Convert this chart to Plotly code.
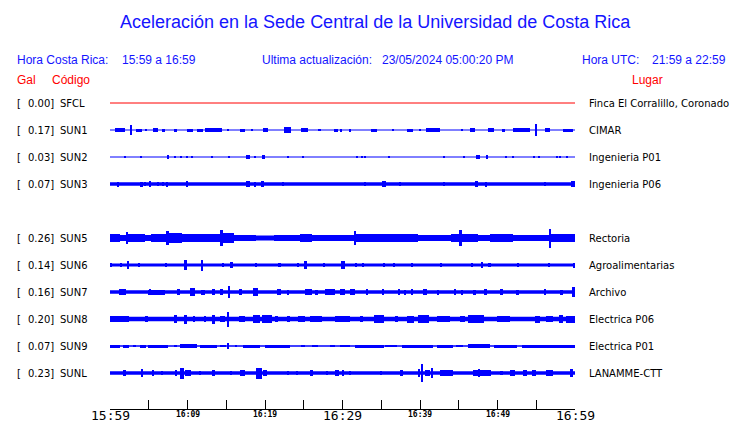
import plotly.graph_objects as go

# ---------------- data ----------------
codes = ["SFCL", "SUN1", "SUN2", "SUN3", "SUN5", "SUN6", "SUN7", "SUN8", "SUN9", "SUNL"]
slots = [0, 1, 2, 3, 5, 6, 7, 8, 9, 10]          # SUN4 slot is empty
gal = [0.00, 0.17, 0.03, 0.07, 0.26, 0.14, 0.16, 0.20, 0.07, 0.23]
places = ["Finca El Corralillo, Coronado", "CIMAR", "Ingenieria P01", "Ingenieria P06",
          "Rectoria", "Agroalimentarias", "Archivo", "Electrica P06", "Electrica P01",
          "LANAMME-CTT"]

# background (quiet) half-amplitude of each trace
base_amp = [0.5, 0.5, 0.5, 1.7, 2.5, 1.5, 1.7, 2.3, 0.8, 1.7]

# bursts: (start minute, end minute, half-amplitude)
ev_SFCL = []
ev_SUN1 = [(0.6,1.9,1.7),(2.6,2.8,5.3),(3.3,4.1,1.5),(4.6,4.7,1.2),(5.6,6.2,1.7),(6.7,7.1,1.5),
           (8.2,8.6,1.5),(9.9,10.7,1.5),(11.2,12.0,1.5),(12.3,14.4,1.7),(15.2,15.4,1.2),(16.8,17.4,1.5),
           (18.2,18.4,1.2),(19.8,20.4,1.7),(22.5,23.3,3.3),(24.7,25.6,1.7),(26.8,27.2,1.2),(28.9,29.4,1.5),
           (29.7,29.9,1.5),(30.8,31.1,1.5),(33.7,34.4,1.5),(36.5,36.7,1.2),(38.3,39.1,1.5),(39.9,40.1,1.2),
           (40.8,42.6,1.7),(45.4,45.6,1.2),(46.4,47.1,1.7),(48.8,49.5,1.7),(50.6,51.0,1.5),(52.0,54.2,1.8),
           (54.9,55.1,6.0),(56.1,56.8,1.7),(58.5,59.8,1.5)]
ev_SUN2 = [(1.9,2.0,1.3),(4.0,4.1,1.3),(7.3,7.6,1.7),(8.3,8.4,1.3),(9.1,9.2,1.0),(9.9,10.1,1.3),
           (10.6,10.7,1.3),(13.1,13.3,1.3),(15.3,15.4,1.3),(17.6,18.1,1.7),(18.7,18.9,1.3),(19.6,20.0,1.7),
           (22.9,23.0,1.0),(24.8,24.9,1.0),(31.8,31.9,1.0),(32.5,32.6,1.3),(32.9,33.0,1.0),(36.0,36.1,1.0),
           (43.1,43.2,1.0),(45.6,45.7,1.0),(47.2,47.7,1.7),(48.5,48.8,1.7),(51.0,51.1,1.3),(52.0,52.1,1.0),
           (54.7,54.8,1.0),(55.3,55.4,1.0),(57.6,57.7,1.0),(58.0,58.1,1.0),(58.9,59.0,1.3)]
ev_SUN3 = [(1.0,1.2,2.5),(3.9,4.2,2.5),(4.5,4.6,2.3),(5.1,5.3,2.7),(6.1,6.3,2.3),(6.8,6.9,2.3),
           (7.3,7.5,2.5),(9.9,10.1,2.7),(17.6,18.1,3.3),(18.6,18.8,2.5),(19.5,19.9,3.3),(22.3,22.5,2.3),
           (32.8,33.0,2.3),(35.1,35.6,2.7),(37.3,37.5,2.3),(43.0,43.2,2.3),(47.1,47.5,3.0),(48.5,48.7,2.5),
           (56.0,56.2,2.3),(59.5,60.0,2.7)]
ev_SUN5 = [(0.0,1.3,4.2),(1.3,2.1,3.4),(2.1,2.3,6.0),(2.3,4.5,4.2),(4.5,5.3,3.4),(5.3,7.2,4.2),
           (7.2,7.6,7.0),(7.6,9.3,5.0),(9.3,14.2,3.8),(14.2,14.6,8.3),(14.6,16.0,4.6),(16.0,18.9,3.4),
           (21.1,24.5,3.3),(24.5,26.0,3.8),(26.0,29.7,3.4),(29.7,30.5,3.0),(30.5,31.6,3.4),(31.6,31.8,7.0),
           (31.8,34.0,3.8),(34.0,35.5,4.2),(35.5,39.8,3.8),(39.8,44.0,3.0),(44.0,45.0,3.8),(45.0,45.4,8.0),
           (45.4,47.5,4.2),(47.5,49.0,3.4),(49.0,52.0,3.8),(52.0,54.0,3.0),(54.0,56.7,3.4),(56.7,56.9,9.5),
           (56.9,60.0,3.8)]
ev_SUN6 = [(0.1,0.3,2.3),(1.4,1.6,2.0),(2.3,2.5,3.7),(3.7,3.9,2.3),(7.2,7.4,2.3),(9.5,9.9,4.7),
           (11.8,12.0,5.5),(14.5,14.7,2.0),(15.5,15.9,3.0),(18.8,19.0,2.3),(21.8,22.0,2.3),(24.2,24.4,2.0),
           (25.0,25.4,3.7),(27.6,27.8,2.3),(29.8,30.3,4.3),(31.6,31.9,2.0),(32.6,32.8,2.0),(35.3,35.5,2.3),
           (36.6,36.8,2.3),(38.9,39.1,2.3),(42.7,42.9,2.3),(46.6,46.8,2.3),(47.9,48.1,2.7),(48.9,49.1,2.3),
           (52.6,52.8,2.3),(56.6,56.8,2.0),(59.7,60.0,2.5)]
ev_SUN7 = [(1.1,2.0,2.7),(4.9,7.1,2.5),(5.1,5.3,3.3),(8.6,9.0,2.7),(10.3,11.0,4.3),(11.8,12.2,2.5),
           (13.1,13.5,3.0),(14.2,14.6,2.7),(15.3,15.5,6.0),(16.6,17.0,3.0),(18.5,19.1,4.0),(21.5,22.1,2.7),
           (22.9,23.1,2.5),(25.2,26.0,3.0),(26.4,26.8,2.5),(27.7,29.0,2.7),(29.7,30.3,2.7),(31.0,31.6,2.7),
           (33.1,33.3,2.7),(35.2,35.4,2.7),(37.2,37.4,2.7),(38.0,38.2,2.5),(38.9,39.1,2.7),(40.4,40.9,3.0),
           (42.3,42.5,2.5),(44.4,44.7,3.0),(45.3,45.5,2.5),(46.8,47.2,2.5),(48.2,48.6,2.7),(50.3,50.7,2.7),
           (52.4,52.8,2.5),(56.0,56.2,2.7),(58.0,58.4,2.5),(59.6,60.0,4.7)]
ev_SUN8 = [(0.0,2.4,3.3),(4.5,4.9,3.3),(8.2,8.6,3.7),(9.5,9.9,4.5),(10.8,11.0,3.3),(12.2,12.4,3.0),
           (13.2,13.5,4.5),(14.2,14.8,3.3),(15.2,15.4,7.5),(16.6,17.4,3.3),(18.5,19.4,4.3),(19.6,20.9,4.0),
           (21.3,21.7,3.3),(22.8,23.2,3.3),(24.3,25.2,3.3),(25.8,27.3,3.1),(29.0,31.0,3.4),(32.3,32.7,3.0),
           (34.0,35.3,4.0),(36.8,37.2,3.3),(38.3,39.2,3.5),(39.8,41.1,4.3),(42.2,43.9,3.1),(45.2,45.8,3.3),
           (46.2,48.2,3.8),(49.9,51.6,3.1),(54.8,55.5,3.5),(56.3,57.2,3.1),(57.9,58.5,4.3),(58.9,60.0,3.5)]
ev_SUN9 = [(0.0,1.3,1.5),(1.7,2.4,1.5),(3.0,3.4,1.3),(3.9,4.7,1.5),(4.9,7.5,1.5),(8.2,8.6,1.3),
           (9.0,11.2,1.7),(11.6,13.8,1.5),(14.2,15.0,1.3),(15.2,15.4,3.3),(16.2,16.4,1.3),(17.2,19.4,1.5),
           (20.0,23.2,1.5),(24.7,25.1,1.3),(26.0,26.9,1.3),(28.4,29.0,1.3),(29.7,31.0,1.3),(31.6,35.3,1.5),
           (35.5,37.0,1.3),(37.7,41.7,1.5),(42.2,44.3,1.5),(44.7,45.6,1.3),(46.2,49.0,1.7),(49.5,52.5,1.5),
           (53.1,60.0,1.5)]
ev_SUNL = [(1.8,2.0,3.3),(4.0,4.2,4.0),(5.5,5.7,2.7),(6.6,6.8,2.3),(8.4,8.6,2.7),(9.0,9.5,5.5),
           (9.7,10.5,2.7),(11.5,11.7,2.3),(13.1,13.5,3.0),(15.6,15.8,2.3),(16.8,17.4,2.7),(18.9,19.6,5.5),
           (19.8,20.2,3.0),(22.9,23.1,2.3),(24.1,24.3,2.3),(25.8,26.2,3.3),(27.9,28.1,2.3),(29.0,29.5,2.7),
           (30.0,30.2,2.7),(30.9,31.1,2.3),(34.9,35.1,2.3),(37.4,37.8,2.7),(39.8,40.0,4.3),(40.2,40.4,8.7),
           (40.6,41.3,3.3),(41.5,41.7,5.0),(42.6,44.3,2.7),(46.9,49.2,3.1),(47.6,47.8,4.3),(50.3,50.7,2.3),
           (51.6,52.2,3.0),(53.3,53.8,2.7),(54.4,55.0,3.0),(56.3,57.2,2.7),(59.4,59.8,4.3)]
events = [ev_SFCL, ev_SUN1, ev_SUN2, ev_SUN3, ev_SUN5, ev_SUN6, ev_SUN7, ev_SUN8, ev_SUN9, ev_SUNL]

tick_minutes = [0, 10, 20, 30, 40, 50, 60]
tick_labels = ["15:59", "16:09", "16:19", "16:29", "16:39", "16:49", "16:59"]
tick_major = [True, False, False, True, False, False, True]

title = "Aceleración en la Sede Central de la Universidad de Costa Rica"
hdr_local = ("Hora Costa Rica:", "15:59 a 16:59")
hdr_update = ("Ultima actualización:", "23/05/2024 05:00:20 PM")
hdr_utc = ("Hora UTC:", "21:59 a 22:59")

# ---------------- layout geometry ----------------
W, H = 740, 423
L, R, T, B = 110, 165, 90, 14
PW, PH = W - L - R, H - T - B
ROW_PX = 27.0
FIRST_ROW_PX = 103.0
y_top = (T - FIRST_ROW_PX) / ROW_PX
y_bot = (H - B - FIRST_ROW_PX) / ROW_PX

def px_x(px):
    return (px - L) / PW

def px_y(py):
    return (H - B - py) / PH

BLUE = "#0000ff"
TXT_BLUE = "#1414ff"
RED = "#ff0000"

fig = go.Figure()

for i, code in enumerate(codes):
    row = slots[i]
    color = RED if code == "SFCL" else BLUE
    lw = 1 if code == "SFCL" else max(1.0, 2 * base_amp[i])
    fig.add_trace(go.Scatter(x=[0, 60], y=[row, row], mode="lines",
                             line=dict(color=color, width=lw), hoverinfo="skip",
                             showlegend=False))
    ev = events[i]
    if ev:
        xs = [(a + b) / 2 for a, b, _ in ev]
        ws = [max(b - a, 0.14) for a, b, _ in ev]
        hs = [2 * amp / ROW_PX for _, _, amp in ev]
        bs = [row - amp / ROW_PX for _, _, amp in ev]
        fig.add_trace(go.Bar(x=xs, y=hs, base=bs, width=ws, marker=dict(color=BLUE, line=dict(width=0)),
                             hoverinfo="skip", showlegend=False))

ann = []
def add(text, x, y, xanchor="left", size=12, color="black", family="Liberation Sans",
        xref="paper", yref="paper", yanchor="middle"):
    ann.append(dict(text=text, x=x, y=y, xref=xref, yref=yref, xanchor=xanchor,
                    yanchor=yanchor, showarrow=False,
                    font=dict(size=size, color=color, family=family)))

add(title, px_x(375), px_y(22), xanchor="center", size=18, color=TXT_BLUE)
add(hdr_local[0], px_x(15), px_y(60), color=TXT_BLUE)
add(hdr_local[1], px_x(120), px_y(60), color=TXT_BLUE)
add(hdr_update[0], px_x(260), px_y(60), color=TXT_BLUE)
add(hdr_update[1], px_x(380), px_y(60), color=TXT_BLUE)
add(hdr_utc[0], px_x(580), px_y(60), color=TXT_BLUE)
add(hdr_utc[1], px_x(650), px_y(60), color=TXT_BLUE)
add("Gal", px_x(15), px_y(80), color=RED)
add("Código", px_x(50), px_y(80), color=RED)
add("Lugar", px_x(630), px_y(80), color=RED)

for i, code in enumerate(codes):
    row = slots[i]
    add("[", px_x(15), row, yref="y", size=10, family="DejaVu Sans")
    add(f"{gal[i]:.2f}]", px_x(56), row, xanchor="right", yref="y", size=10, family="DejaVu Sans")
    add(code, px_x(58), row, yref="y", size=10, family="DejaVu Sans")
    add(places[i], px_x(587), row, yref="y", size=10, family="DejaVu Sans")

for m, lab, major in zip(tick_minutes, tick_labels, tick_major):
    if major:
        add(lab, m, px_y(415), xref="x", xanchor="center", size=13, family="DejaVu Sans Mono")
    else:
        add(f"<b>{lab}</b>", m, px_y(414), xref="x", xanchor="center", size=8, family="DejaVu Sans Mono")

fig.update_layout(
    width=W, height=H, autosize=False,
    margin=dict(l=L, r=R, t=T, b=B, pad=0),
    paper_bgcolor="white", plot_bgcolor="white",
    barmode="overlay", bargap=0,
    showlegend=False,
    annotations=ann,
    xaxis=dict(range=[0, 60], showgrid=False, zeroline=False, showline=True, linecolor="black",
               linewidth=1, ticks="inside", ticklen=9, tickcolor="black", tickwidth=1,
               tick0=0, dtick=5, showticklabels=False, fixedrange=True),
    yaxis=dict(range=[y_bot, y_top], visible=False, fixedrange=True),
)

fig.write_html("out.html", config={"displayModeBar": False},
               post_script="document.body.style.margin='0';document.body.style.overflow='hidden';")
